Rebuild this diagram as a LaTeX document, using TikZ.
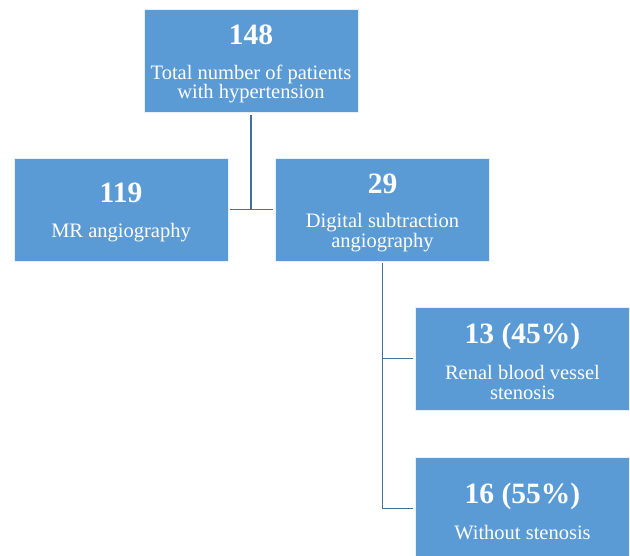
\documentclass[tikz,border=0pt]{standalone}
\usepackage{fontspec}
\setmainfont{Liberation Serif}
\usepackage{tikz}
\usetikzlibrary{positioning,calc}

\definecolor{boxblue}{HTML}{5B9BD5}
\definecolor{linkblue}{HTML}{41719C}
\newcommand{\bignum}[1]{{\fontsize{29.5}{29.5}\selectfont\bfseries\rule{0pt}{26pt}#1}}

\begin{document}
\begin{tikzpicture}[x=1pt,y=1pt,
  box/.style={draw=white!85!boxblue, line width=0.8pt, fill=boxblue, text=white,
    minimum width=214pt, minimum height=103pt, inner sep=0pt, align=center,
    font=\fontsize{20.5}{19.7}\selectfont},
  link/.style={draw=linkblue, line width=1.6pt}]
\useasboundingbox (0,0) rectangle (630,555);
\begin{scope}
\clip (0,0) rectangle (630,555);
\node[box] (total) at (251,494) {\bignum{148}\\[15pt]Total number of patients\\with hypertension};
\node[box] (mr) at (121,345.5) {\bignum{119}\\[15pt]MR angiography};
\node[box] (dsa) at (382.5,345.5) {\bignum{29}\\[15pt]Digital subtraction\\angiography};
\node[box] (renal) at (522.5,196.5) {\bignum{13 (45\%)}\\[15pt]Renal blood vessel\\stenosis};
\node[box] (without) at (522.5,46.5) {\bignum{16 (55\%)}\\[15pt]Without stenosis};
\end{scope}
% connectors
\draw[link] ($(mr.east)+(2,0)$) -- ($(dsa.west)+(-2,0)$);
\draw[link] ($(total.south)+(0,-2)$) -- (total.south |- mr.east);
\draw[link] ($(dsa.south)+(0,-2)$) |- ($(renal.west)+(-2,0)$);
\draw[link] ($(dsa.south)+(0,-2)$) |- ($(without.west)+(-2,0)$);
\end{tikzpicture}
\end{document}
